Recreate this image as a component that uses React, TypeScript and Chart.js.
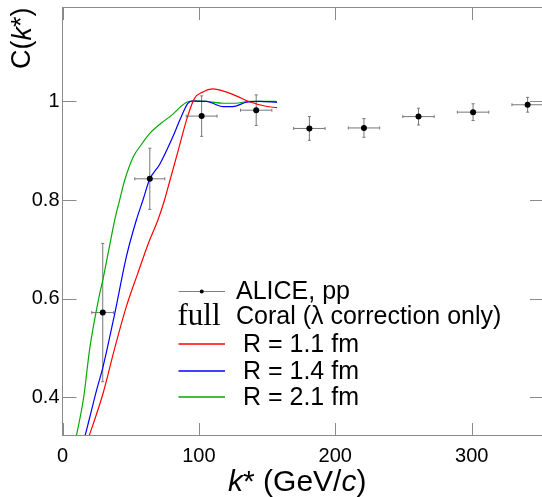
import React, { useEffect, useRef } from "react";
import { Chart, registerables } from "chart.js";

Chart.register(...registerables);

// ALICE pp data points
const kData = [29.5, 64, 102, 142, 181, 221, 261, 301, 341];
const cData = [0.572, 0.843, 0.97, 0.982, 0.945, 0.946, 0.969, 0.978, 0.993];
const cErr = [0.14, 0.062, 0.041, 0.031, 0.024, 0.019, 0.017, 0.017, 0.015];
const kErr = [8, 11, 11.3, 11.5, 11.5, 11.5, 11.5, 11.5, 11.5];

// Coral curves
const kRed = [16.8, 29.7, 38, 46.8, 55, 63.9, 69.9, 74.8, 78.5, 85, 91.9, 96.8, 102.9, 110.2, 117.5, 127.3, 137, 149.2, 157.3];
const cRed = [0.3, 0.408, 0.497, 0.584, 0.65, 0.719, 0.759, 0.8, 0.837, 0.902, 0.971, 1.006, 1.019, 1.025, 1.021, 1.011, 0.999, 0.99, 0.987];

const kBlue = [14.5, 20, 25, 29.7, 38.3, 46.8, 54.1, 59, 63.9, 71.2, 80.9, 86, 91.9, 95.6, 100, 105.4, 111, 117.5, 124.8, 134.6, 144.3, 157.3];
const cBlue = [0.3, 0.36, 0.415, 0.462, 0.57, 0.685, 0.759, 0.8, 0.842, 0.872, 0.928, 0.962, 0.996, 1.001, 1.0, 1.0, 0.995, 0.989, 0.989, 0.998, 1.0, 0.998];

const kGreen = [8.5, 15.5, 20, 26.5, 29.7, 34, 38.3, 41.9, 45.6, 52, 58, 64, 72, 81, 87, 92, 100, 108, 117.5, 127, 137, 147, 157];
const cGreen = [0.3, 0.4, 0.5, 0.6, 0.64, 0.7, 0.76, 0.8, 0.84, 0.888, 0.913, 0.935, 0.955, 0.974, 0.99, 0.999, 1.001, 0.999, 0.996, 0.996, 1.0, 1.0, 1.0];

const xTicks = [0, 100, 200, 300];
const yTicks = [0.4, 0.6, 0.8, 1];

const legendLabels = ["ALICE, pp", "Coral (\u03bb correction only)", " R = 1.1 fm", " R = 1.4 fm", " R = 2.1 fm"];
const curveColors = ["#ff0000", "#0000ff", "#00aa00"];

const X_MIN = 0;
const X_MAX = 353;
const Y_MIN = 0.323;
const Y_MAX = 1.19;

const SANS = '"Liberation Sans", Arial, Helvetica, sans-serif';
const SERIF = '"Liberation Serif", "DejaVu Serif", serif';
const AXIS_COLOR = "#8a8a8a";

type Seg = { t: string; i?: boolean };

function richWidth(ctx: CanvasRenderingContext2D, segs: Seg[], size: number) {
  let w = 0;
  for (const s of segs) {
    ctx.font = `${s.i ? "italic " : ""}${size}px ${SANS}`;
    w += ctx.measureText(s.t).width;
  }
  return w;
}

function drawRich(ctx: CanvasRenderingContext2D, segs: Seg[], x: number, y: number, size: number) {
  let cx = x;
  for (const s of segs) {
    ctx.font = `${s.i ? "italic " : ""}${size}px ${SANS}`;
    ctx.fillText(s.t, cx, y);
    cx += ctx.measureText(s.t).width;
  }
}

const toPts = (xs: number[], ys: number[]) => xs.map((x, i) => ({ x, y: ys[i] }));

const framePlugin = {
  id: "frame",
  beforeDatasetsDraw(chart: any) {
    const ctx: CanvasRenderingContext2D = chart.ctx;
    const xs = chart.scales.x;
    const ys = chart.scales.y;
    ctx.save();
    ctx.strokeStyle = "#777777";
    ctx.lineWidth = 1;
    for (let i = 0; i < kData.length; i++) {
      const px = xs.getPixelForValue(kData[i]);
      const py = ys.getPixelForValue(cData[i]);
      const x1 = xs.getPixelForValue(kData[i] - kErr[i]);
      const x2 = xs.getPixelForValue(kData[i] + kErr[i]);
      const y1 = ys.getPixelForValue(cData[i] + cErr[i]);
      const y2 = ys.getPixelForValue(cData[i] - cErr[i]);
      ctx.beginPath();
      ctx.moveTo(x1, py);
      ctx.lineTo(x2, py);
      ctx.moveTo(px, y1);
      ctx.lineTo(px, y2);
      ctx.moveTo(x1, py - 1.5);
      ctx.lineTo(x1, py + 1.5);
      ctx.moveTo(x2, py - 1.5);
      ctx.lineTo(x2, py + 1.5);
      ctx.moveTo(px - 1.5, y1);
      ctx.lineTo(px + 1.5, y1);
      ctx.moveTo(px - 1.5, y2);
      ctx.lineTo(px + 1.5, y2);
      ctx.stroke();
    }
    ctx.restore();
  },
  afterDraw(chart: any) {
    const ctx: CanvasRenderingContext2D = chart.ctx;
    const { left, right, top, bottom } = chart.chartArea;
    const xs = chart.scales.x;
    const ys = chart.scales.y;
    ctx.save();
    ctx.strokeStyle = AXIS_COLOR;
    ctx.lineWidth = 1;
    ctx.strokeRect(left, top, right - left, bottom - top);
    ctx.beginPath();
    for (const v of xTicks) {
      const px = Math.round(xs.getPixelForValue(v)) + 0.5;
      ctx.moveTo(px, bottom);
      ctx.lineTo(px, bottom - 12.5);
      ctx.moveTo(px, top);
      ctx.lineTo(px, top + 12.5);
    }
    for (const v of yTicks) {
      const py = Math.round(ys.getPixelForValue(v)) + 0.5;
      ctx.moveTo(left, py);
      ctx.lineTo(left + 14, py);
      ctx.moveTo(right, py);
      ctx.lineTo(right - 14, py);
    }
    ctx.stroke();

    // axis titles
    ctx.fillStyle = "#000";
    ctx.textBaseline = "alphabetic";
    ctx.textAlign = "left";
    const xt: Seg[] = [{ t: "k", i: true }, { t: "* (GeV/" }, { t: "c", i: true }, { t: ")" }];
    const xSize = 30;
    const xw = richWidth(ctx, xt, xSize);
    drawRich(ctx, xt, (left + right) / 2 - 6 - xw / 2, 490.5, xSize);

    const yt: Seg[] = [{ t: "C(" }, { t: "k", i: true }, { t: "*)" }];
    const ySize = 27;
    const yw = richWidth(ctx, yt, ySize);
    ctx.save();
    ctx.translate(23, top + yw);
    ctx.rotate(-Math.PI / 2);
    ctx.textBaseline = "middle";
    drawRich(ctx, yt, 0, 0, ySize);
    ctx.restore();

    // legend
    const lx1 = 178.5;
    const lx2 = 225;
    const tx = 236;
    const rows = [290.7, 317.5, 344, 370.7, 397.3];
    const lsize = 25;
    ctx.textBaseline = "middle";
    ctx.strokeStyle = "#808080";
    ctx.lineWidth = 1;
    ctx.beginPath();
    ctx.moveTo(lx1, Math.round(rows[0]) + 0.5);
    ctx.lineTo(lx2, Math.round(rows[0]) + 0.5);
    ctx.stroke();
    ctx.fillStyle = "#000";
    ctx.beginPath();
    ctx.arc((lx1 + lx2) / 2, Math.round(rows[0]) + 0.5, 2, 0, Math.PI * 2);
    ctx.fill();
    ctx.font = `${lsize}px ${SANS}`;
    ctx.fillText(legendLabels[0], tx, rows[0] + 1);
    ctx.font = `31px ${SERIF}`;
    ctx.textBaseline = "alphabetic";
    ctx.fillText("full", 177.5, 325);
    ctx.font = `${lsize}px ${SANS}`;
    ctx.fillText(legendLabels[1], tx, 324);
    ctx.textBaseline = "middle";
    for (let i = 0; i < 3; i++) {
      const y = Math.round(rows[i + 2]);
      ctx.strokeStyle = curveColors[i];
      ctx.lineWidth = 1.3;
      ctx.beginPath();
      ctx.moveTo(lx1, y);
      ctx.lineTo(lx2, y);
      ctx.stroke();
      ctx.fillStyle = "#000";
      ctx.font = `${lsize}px ${SANS}`;
      ctx.fillText(legendLabels[i + 2], tx, rows[i + 2] + 1);
    }
    ctx.restore();
  },
};

export default function App() {
  const ref = useRef<HTMLCanvasElement | null>(null);
  useEffect(() => {
    if (!ref.current) return;
    const curve = (xs: number[], ys: number[], color: string, label: string) => ({
      label,
      data: toPts(xs, ys),
      showLine: true,
      borderColor: color,
      backgroundColor: color,
      borderWidth: 1.2,
      pointRadius: 0,
      cubicInterpolationMode: "monotone" as const,
      order: 1,
    });
    const chart = new Chart(ref.current, {
      type: "scatter",
      data: {
        datasets: [
          {
            label: "ALICE, pp",
            data: toPts(kData, cData),
            pointRadius: 3,
            pointBackgroundColor: "#000",
            pointBorderColor: "#000",
            borderWidth: 0,
            showLine: false,
            order: 0,
          },
          curve(kRed, cRed, curveColors[0], "R = 1.1 fm"),
          curve(kBlue, cBlue, curveColors[1], "R = 1.4 fm"),
          curve(kGreen, cGreen, curveColors[2], "R = 2.1 fm"),
        ],
      },
      options: {
        animation: false,
        responsive: false,
        maintainAspectRatio: false,
        devicePixelRatio: 1,
        events: [],
        layout: { padding: { top: 7.5, right: 2.6, left: 0, bottom: 0 } },
        plugins: { legend: { display: false }, tooltip: { enabled: false }, title: { display: false } },
        scales: {
          x: {
            type: "linear",
            min: X_MIN,
            max: X_MAX,
            grid: { display: false, drawTicks: false },
            border: { display: false },
            afterBuildTicks: (s: any) => {
              s.ticks = xTicks.map((v) => ({ value: v }));
            },
            afterFit: (s: any) => {
              s.height = 61.5;
              s.paddingLeft = 0;
              s.paddingRight = 0;
            },
            ticks: {
              padding: 9,
              color: "#000",
              font: { family: SANS, size: 20 },
              maxRotation: 0,
              callback: (v: any) => String(v),
            },
          },
          y: {
            type: "linear",
            min: Y_MIN,
            max: Y_MAX,
            grid: { display: false, drawTicks: false },
            border: { display: false },
            afterBuildTicks: (s: any) => {
              s.ticks = yTicks.map((v) => ({ value: v }));
            },
            afterFit: (s: any) => {
              s.width = 62.5;
              s.paddingTop = 0;
              s.paddingBottom = 0;
            },
            ticks: {
              padding: 3,
              color: "#000",
              font: { family: SANS, size: 20 },
              callback: (v: any) => String(v),
            },
          },
        },
      },
      plugins: [framePlugin],
    });
    return () => chart.destroy();
  }, []);
  return (
    <div
      style={{
        position: "fixed",
        left: 0,
        top: 0,
        width: 542,
        height: 497,
        overflow: "hidden",
        background: "#fff",
      }}
    >
      <canvas ref={ref} width={548} height={497} style={{ display: "block", width: 548, height: 497 }} />
    </div>
  );
}
